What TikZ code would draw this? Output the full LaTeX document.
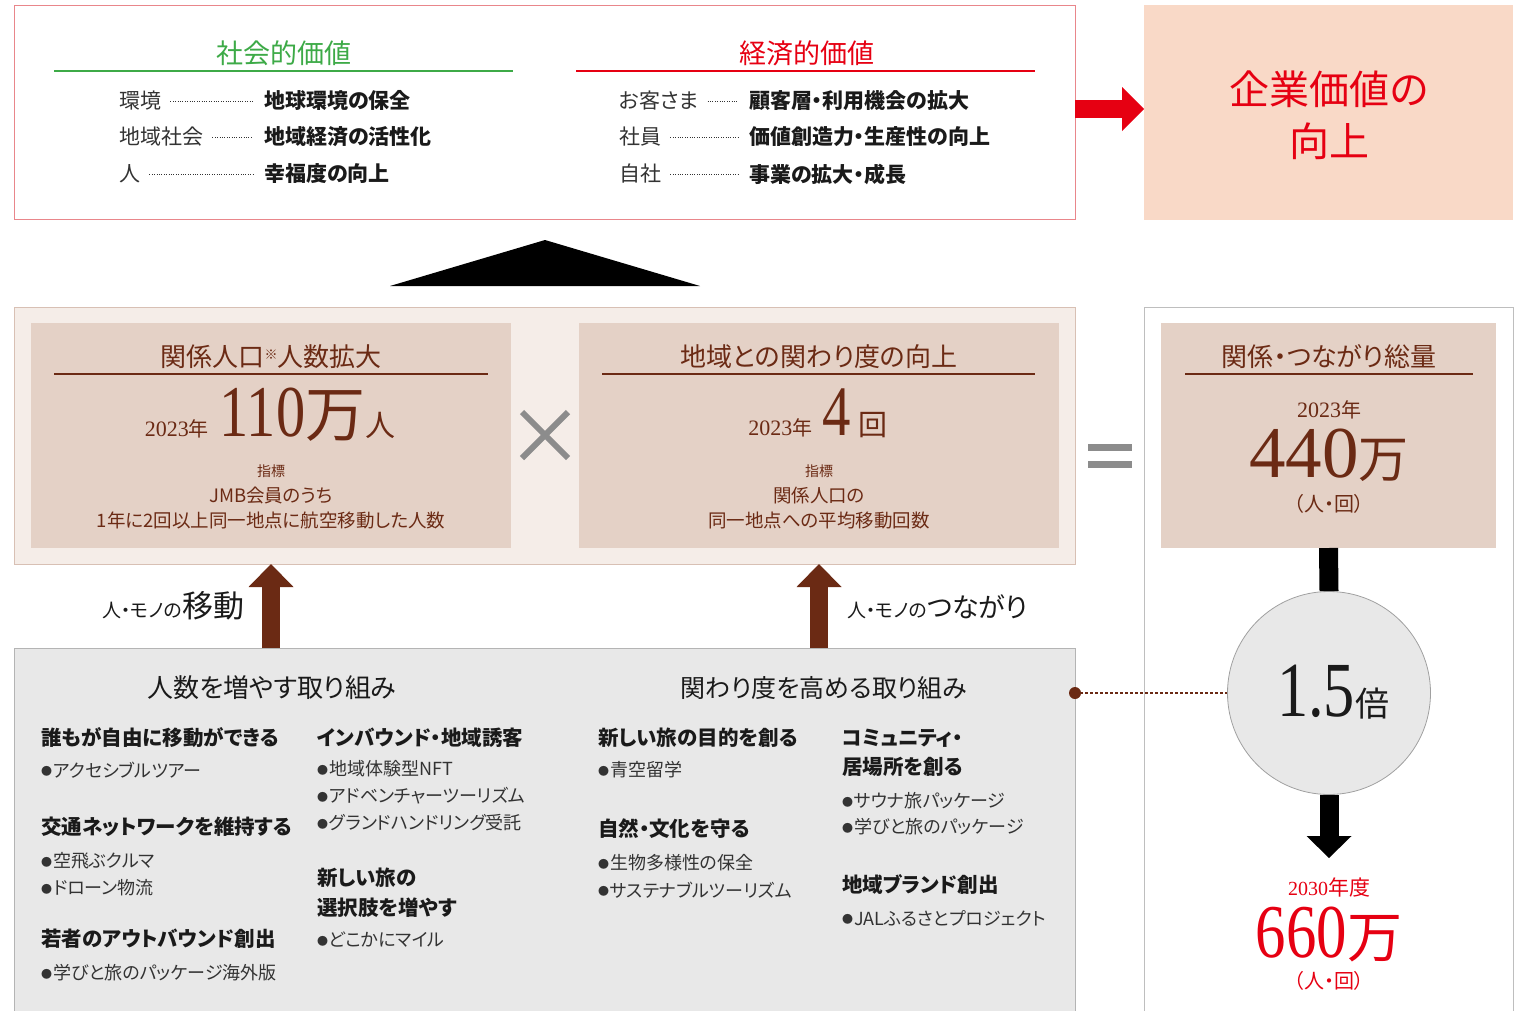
\documentclass[tikz,border=0pt]{standalone}
\usepackage{fontspec}
\setmainfont[RawFeature=+palt]{Noto Sans CJK JP}
\newfontfamily\numf{Liberation Serif}
\newfontfamily\numc[FakeStretch=0.8]{Liberation Serif}
\usetikzlibrary{arrows.meta,calc}
\newcommand\fss[2]{\fontsize{#1}{#2}\selectfont}
\newcommand\bu{\raisebox{1.5pt}{\fss{11}{11}●}\hspace{1pt}}
\definecolor{pinkline}{HTML}{E9868B}
\definecolor{socgreen}{HTML}{3DAA47}
\definecolor{ecored}{HTML}{E60012}
\definecolor{peach}{HTML}{F9D9C7}
\definecolor{beigeout}{HTML}{F5EDE8}
\definecolor{beigeline}{HTML}{D8C0B4}
\definecolor{beigein}{HTML}{E4D1C6}
\definecolor{brn}{HTML}{6B2A14}
\definecolor{graybg}{HTML}{E8E8E8}
\definecolor{grayline}{HTML}{B4B4B4}
\definecolor{framegray}{HTML}{BEBEBE}
\definecolor{symgray}{HTML}{8C8C8C}
\definecolor{circline}{HTML}{A0A0A0}
\definecolor{txtdark}{HTML}{1A1A1A}
\definecolor{txtmid}{HTML}{333333}
\begin{document}
\begin{tikzpicture}[x=1pt,y=-1pt,
  box/.style={anchor=north west,inner sep=0pt,outer sep=0pt},
  txt/.style={inner sep=0pt,outer sep=0pt},
  lbl/.style={anchor=west,inner sep=0pt,font=\fss{21}{21},text=txtmid},
  itm/.style={anchor=west,inner sep=0pt,font=\fss{21}{21}\bfseries,text=txtdark},
  leader/.style={draw=txtmid,line width=0.8pt,dash pattern=on 0.8pt off 1.6pt},
  hd/.style={anchor=west,inner sep=0pt,font=\fss{20.5}{20.5}\bfseries,text=txtdark},
  li/.style={anchor=west,inner sep=0pt,font=\fss{18}{18},text=txtmid},
  redarr/.style={ecored,line width=18pt,-{Triangle[length=22pt,width=44pt,line width=0pt]}},
  brnarr/.style={brn,line width=18pt,-{Triangle[length=23pt,width=45pt,line width=0pt]}},
  blkarr/.style={black,line width=19pt,-{Triangle[length=22pt,width=45pt,line width=0pt]}},
  rule/.style={line width=1.2pt}
]
\useasboundingbox (0,0) rectangle (1521,1010);

% ---------- top box ----------
\node[box,draw=pinkline,line width=1pt,minimum width=1061pt,minimum height=214pt] (topbox) at (14,5) {};
\node[txt,text=socgreen,font=\fss{27}{27}] (soc) at (284,53) {社会的価値};
\draw[socgreen,rule] (54,71) -- (513,71);
\node[txt,text=ecored,font=\fss{27}{27}] (eco) at (807,53) {経済的価値};
\draw[ecored,rule] (576,71) -- (1035,71);

\node[lbl] (l1) at (119,101) {環境};
\node[itm] (v1) at (264,101) {地球環境の保全};
\node[lbl] (l2) at (119,137) {地域社会};
\node[itm] (v2) at (264,137) {地域経済の活性化};
\node[lbl] (l3) at (119,174) {人};
\node[itm] (v3) at (264,174) {幸福度の向上};
\node[lbl] (r1) at (619,101) {お客さま};
\node[itm] (w1) at (749,101) {顧客層・利用機会の拡大};
\node[lbl] (r2) at (619,137) {社員};
\node[itm] (w2) at (749,137) {価値創造力・生産性の向上};
\node[lbl] (r3) at (619,174) {自社};
\node[itm] (w3) at (749,174) {事業の拡大・成長};
\foreach \a/\b in {l1/v1,l2/v2,l3/v3,r1/w1,r2/w2,r3/w3}
  \draw[leader] ([xshift=9pt]\a.east) -- ([xshift=-11pt]\b.west);

% ---------- peach box ----------
\node[box,fill=peach,minimum width=369pt,minimum height=215pt] (peach) at (1144,5) {};
\node[txt,text=ecored,font=\fss{40}{52},align=center] (kigyo) at (1329,115) {企業価値の\\向上};
\coordinate (ra) at (0,109);
\draw[redarr] (topbox.east |- ra) -- (peach.west |- ra);

% ---------- triangle ----------
\fill[black] (390,286) -- (545,240) -- (700,286) -- cycle;

% ---------- middle ----------
\node[box,fill=beigeout,draw=beigeline,line width=1pt,minimum width=1061pt,minimum height=257pt] (mid) at (14,307) {};
\node[box,fill=beigein,minimum width=480pt,minimum height=225pt] (b1) at (31,323) {};
\node[box,fill=beigein,minimum width=480pt,minimum height=225pt] (b2) at (579,323) {};
\draw[framegray,line width=1pt] (1144,1015) -- (1144,307) -- (1513,307) -- (1513,1015);
\node[box,fill=beigein,minimum width=335pt,minimum height=225pt] (b3) at (1161,323) {};

\node[txt,text=brn,font=\fss{26}{26}] (t1) at (271,357) {関係人口{\fss{13}{13}\raisebox{7pt}{※}}人数拡大};
\draw[brn,rule] (54,374) -- (488,374);
\node[txt,text=brn,font=\fss{26}{26}] (t2) at (819,357) {地域との関わり度の向上};
\draw[brn,rule] (602,374) -- (1035,374);
\node[txt,text=brn,font=\fss{26}{26}] (t3) at (1329,357) {関係・つながり総量};
\draw[brn,rule] (1185,374) -- (1473,374);

\node[txt,anchor=base,text=brn] (n1) at (270,436) {{\numf\fss{22}{22}2023}{\fss{20}{20}年}\hspace{11pt}{\numc\fss{73}{73}110}{\fss{60}{60}万}{\fss{30}{30}人}};
\node[txt,anchor=base,text=brn] (n2) at (818,435) {{\numf\fss{22}{22}2023}{\fss{20}{20}年}\hspace{10pt}{\numc\fss{71}{71}4}\hspace{8pt}{\fss{29}{29}回}};

\node[txt,text=brn,font=\fss{14}{14}] (k1) at (271,471) {指標};
\node[txt,text=brn,font=\fss{18.5}{25},align=center] (d1) at (271,508) {JMB会員のうち\\1年に2回以上同一地点に航空移動した人数};
\node[txt,text=brn,font=\fss{14}{14}] (k2) at (819,471) {指標};
\node[txt,text=brn,font=\fss{18.5}{25},align=center] (d2) at (819,508) {関係人口の\\同一地点への平均移動回数};

\draw[symgray,line width=6pt] (522,412) -- (568,458) (568,412) -- (522,458);
\fill[symgray] (1088,444) rectangle (1132,451);
\fill[symgray] (1088,461) rectangle (1132,468);

\node[txt,text=brn] (y3) at (1329,410) {{\numf\fss{22}{22}2023}{\fss{20}{20}年}};
\node[txt,anchor=base,text=brn] (v3n) at (1329,477) {{\numf\fss{73}{73}440}{\fss{50}{50}万}};
\node[txt,text=brn,font=\fss{20}{20}] (u3) at (1329,504) {（人・回）};

% ---------- circle & black arrows ----------
\node[circle,draw=circline,fill=graybg,line width=0.8pt,minimum size=203pt,inner sep=0pt] (circ) at (1329,693) {};
\node[txt,anchor=base,text=txtdark] (c15) at (1333,716) {{\numc\fss{78}{78}1.5}{\fss{34}{34}倍}};
\draw[black,line width=19pt] (b3.south) -- (circ.north);
\coordinate (tipc) at (1329,858);
\draw[blkarr] (circ.south) -- (tipc);

\node[txt,text=ecored] (y30) at (1329,887) {{\numf\fss{20}{20}2030}{\fss{21}{21}年度}};
\node[txt,anchor=base,text=ecored] (v30) at (1329,957) {{\numc\fss{76}{76}660}{\fss{55}{55}万}};
\node[txt,text=ecored,font=\fss{20}{20}] (u30) at (1329,981) {（人・回）};

% ---------- gray box ----------
\node[box,fill=graybg,draw=grayline,line width=1pt,minimum width=1061pt,minimum height=372pt] (gray) at (14,648) {};

\coordinate (aL) at (271,0);
\coordinate (aR) at (819,0);
\draw[brnarr] (aL |- gray.north) -- (aL |- mid.south);
\draw[brnarr] (aR |- gray.north) -- (aR |- mid.south);
\node[txt,anchor=base east,text=txtdark] (lab1) at (244,617) {{\fss{19}{19}人・モノの}{\fss{31}{31}移動}};
\node[txt,anchor=base west,text=txtdark] (lab2) at (847,617) {{\fss{19}{19}人・モノの}{\fss{27}{27}つながり}};

\fill[brn] (gray.east |- circ) circle (6pt);
\draw[brn,line width=2.5pt,dash pattern=on 2.5pt off 2.5pt] (gray.east |- circ) -- (circ.west);

\node[txt,font=\fss{26}{26},text=txtdark] (g1) at (272,688) {人数を増やす取り組み};
\node[txt,font=\fss{25}{25},text=txtdark] (g2) at (824,688) {関わり度を高める取り組み};

% column 1
\node[hd] (h11) at (41,738) {誰もが自由に移動ができる};
\node[li] (i111) at (41,770) {\bu アクセシブルツアー};
\node[hd] (h12) at (41,827) {交通ネットワークを維持する};
\node[li] (i121) at (41,861) {\bu 空飛ぶクルマ};
\node[li] (i122) at (41,888) {\bu ドローン物流};
\node[hd] (h13) at (41,939) {若者のアウトバウンド創出};
\node[li] (i131) at (41,973) {\bu 学びと旅のパッケージ海外版};
% column 2
\node[hd] (h21) at (317,738) {インバウンド・地域誘客};
\node[li] (i211) at (317,769) {\bu 地域体験型NFT};
\node[li] (i212) at (317,796) {\bu アドベンチャーツーリズム};
\node[li] (i213) at (317,823) {\bu グランドハンドリング受託};
\node[hd] (h22) at (317,878) {新しい旅の};
\node[hd] (h22b) at (317,908) {選択肢を増やす};
\node[li] (i221) at (317,940) {\bu どこかにマイル};
% column 3
\node[hd] (h31) at (598,738) {新しい旅の目的を創る};
\node[li] (i311) at (598,770) {\bu 青空留学};
\node[hd] (h32) at (598,829) {自然・文化を守る};
\node[li] (i321) at (598,863) {\bu 生物多様性の保全};
\node[li] (i322) at (598,890) {\bu サステナブルツーリズム};
% column 4
\node[hd] (h41) at (842,738) {コミュニティ・};
\node[hd] (h41b) at (842,767) {居場所を創る};
\node[li] (i411) at (842,801) {\bu サウナ旅パッケージ};
\node[li] (i412) at (842,827) {\bu 学びと旅のパッケージ};
\node[hd] (h42) at (842,884) {地域ブランド創出};
\node[li] (i421) at (842,918) {\bu JALふるさとプロジェクト};
\end{tikzpicture}
\end{document}
